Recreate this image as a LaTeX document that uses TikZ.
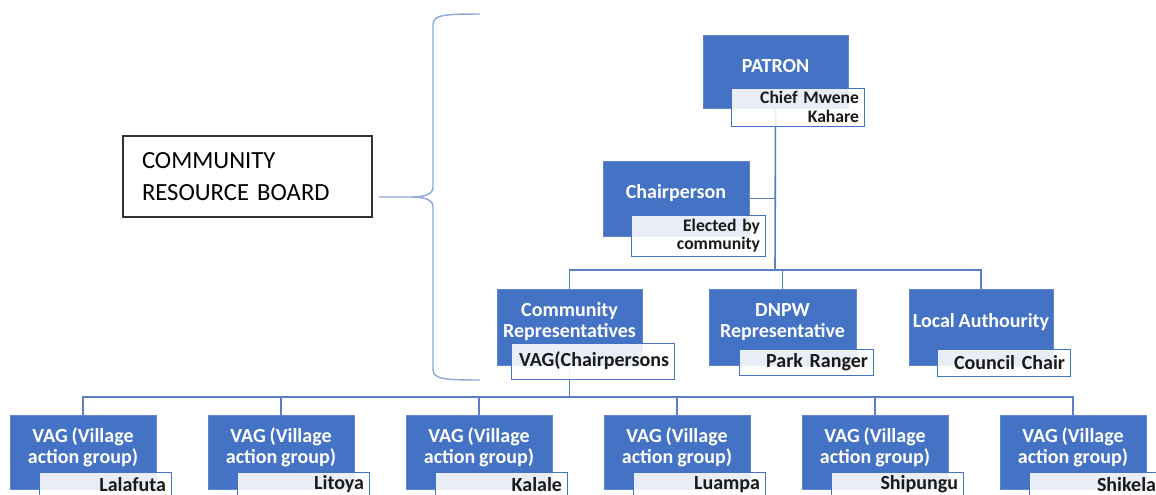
\documentclass[tikz,border=0pt]{standalone}
\usepackage{fontspec}
\setmainfont{Carlito}[WordSpace=0.85]
\definecolor{boxblue}{HTML}{4472C4}
\definecolor{connblue}{HTML}{5B7FC6}
\definecolor{braceblue}{HTML}{8EA9DB}
\definecolor{subtext}{HTML}{1A1A1A}
\tikzset{
  mainbox/.style={fill=boxblue, draw=boxblue!85!white, line width=0.6pt, inner sep=0pt, outer sep=0pt, anchor=north west},
  mainlabel/.style={text=white, font=\bfseries\fontsize{15}{15.8}\selectfont, align=center, inner sep=0pt, yshift=3.75pt},
  subbox/.style={fill=white, fill opacity=0.88, text opacity=1, draw=boxblue, line width=0.7pt, inner ysep=0pt, inner xsep=3.75pt, outer sep=0pt, anchor=north west, align=right, text=subtext},
  subone/.style={font=\bfseries\fontsize{15}{16}\selectfont},
  subtwo/.style={font=\bfseries\fontsize{13.2}{13.9}\selectfont},
  conn/.style={draw=connblue, line width=1.2pt},
  bracestyle/.style={draw=braceblue, line width=1.1pt},
  crbbox/.style={draw=black!80, line width=0.8pt, fill=white, anchor=north west, inner xsep=14.25pt, inner ysep=0pt, outer sep=0pt, align=left, font=\fontsize{18.5}{24}\selectfont}
}
% name, x, y, w, h, text
\newcommand{\orgbox}[6]{%
  \node[mainbox, minimum width={#4*0.75pt}, minimum height={#5*0.75pt},
        label={[mainlabel]center:{#6}}] (#1) at (#2,#3) {};}
% name, x1, y1, x2, y2, style, text
\newcommand{\orgsub}[7]{%
  \node[subbox, #6, text width={(#4-#2-10)*0.75pt}, minimum height={(#5-#3)*0.75pt}] (#1) at (#2,#3) {#7};}
\begin{document}
\begin{tikzpicture}[x=0.75pt,y=-0.75pt]
\useasboundingbox (0,0) rectangle (1156,494);
\clip (0,0) rectangle (1156,494);

% Community Resource Board label and brace
\node[crbbox, minimum width={249*0.75pt}, minimum height={81*0.75pt}, text width={(249-38)*0.75pt}] (crb) at (123,136) {COMMUNITY\\RESOURCE BOARD};
\coordinate (bracetip) at (379,197);
\draw[bracestyle] (480,14) .. controls (443,14) and (433,15) .. (433,25)
  -- (433,187) .. controls (433,194) and (425,197) .. (412,197) -- (bracetip)
  (412,197) .. controls (425,197) and (433,200) .. (433,207)
  -- (433,369) .. controls (433,379) and (443,380) .. (480,380);

% main boxes
\orgbox{patron}{703}{35}{145}{73}{PATRON}
\orgbox{chair}{603}{161}{146}{75}{Chairperson}
\orgbox{comm}{497}{289}{145}{76}{Community\\Representatives}
\orgbox{dnpw}{709}{289}{147}{76}{DNPW\\Representative}
\orgbox{local}{909}{289}{144}{76}{Local Authourity}
\orgbox{vaga}{10}{415}{146}{74}{VAG (Village\\action group)}
\orgbox{vagb}{208}{415}{146}{74}{VAG (Village\\action group)}
\orgbox{vagc}{406}{415}{146}{74}{VAG (Village\\action group)}
\orgbox{vagd}{604}{415}{146}{74}{VAG (Village\\action group)}
\orgbox{vage}{802}{415}{146}{74}{VAG (Village\\action group)}
\orgbox{vagf}{1000}{415}{146}{74}{VAG (Village\\action group)}

% connectors
\coordinate (spine) at (775,270);
\coordinate (lowbar) at (569.5,397);
\draw[conn] (patron.south) -- (spine);
\draw[conn] (chair.east) -- (chair.east -| spine);
\draw[conn] (comm.north) -- (comm.north |- spine) -| (local.north);
\draw[conn] (dnpw.north) -- (dnpw.north |- spine);
\draw[conn] (comm.south) -- (lowbar);
\draw[conn] (vaga.north) -- (vaga.north |- lowbar) -| (vagf.north);
\draw[conn] (vagb.north) -- (vagb.north |- lowbar);
\draw[conn] (vagc.north) -- (vagc.north |- lowbar);
\draw[conn] (vagd.north) -- (vagd.north |- lowbar);
\draw[conn] (vage.north) -- (vage.north |- lowbar);

% sub boxes
\orgsub{patronS}{731}{88}{864}{126}{subtwo}{Chief Mwene\\Kahare}
\orgsub{chairS}{631}{215}{765}{256}{subtwo}{Elected by\\community}
\orgsub{commS}{511}{343}{674}{379}{subone}{VAG(Chairpersons}
\orgsub{dnpwS}{739}{349}{873}{375}{subone}{Park Ranger}
\orgsub{localS}{937}{349}{1070}{376}{subone}{Council Chair}
\orgsub{vagaS}{39}{472}{171}{496.5}{subone}{Lalafuta}
\orgsub{vagbS}{237}{472}{369}{496.5}{subone}{Litoya}
\orgsub{vagcS}{435}{472}{567}{496.5}{subone}{Kalale}
\orgsub{vagdS}{633}{472}{765}{496.5}{subone}{Luampa}
\orgsub{vageS}{831}{472}{963}{496.5}{subone}{Shipungu}
\orgsub{vagfS}{1029}{472}{1161}{496.5}{subone}{Shikela}
\end{tikzpicture}
\end{document}
